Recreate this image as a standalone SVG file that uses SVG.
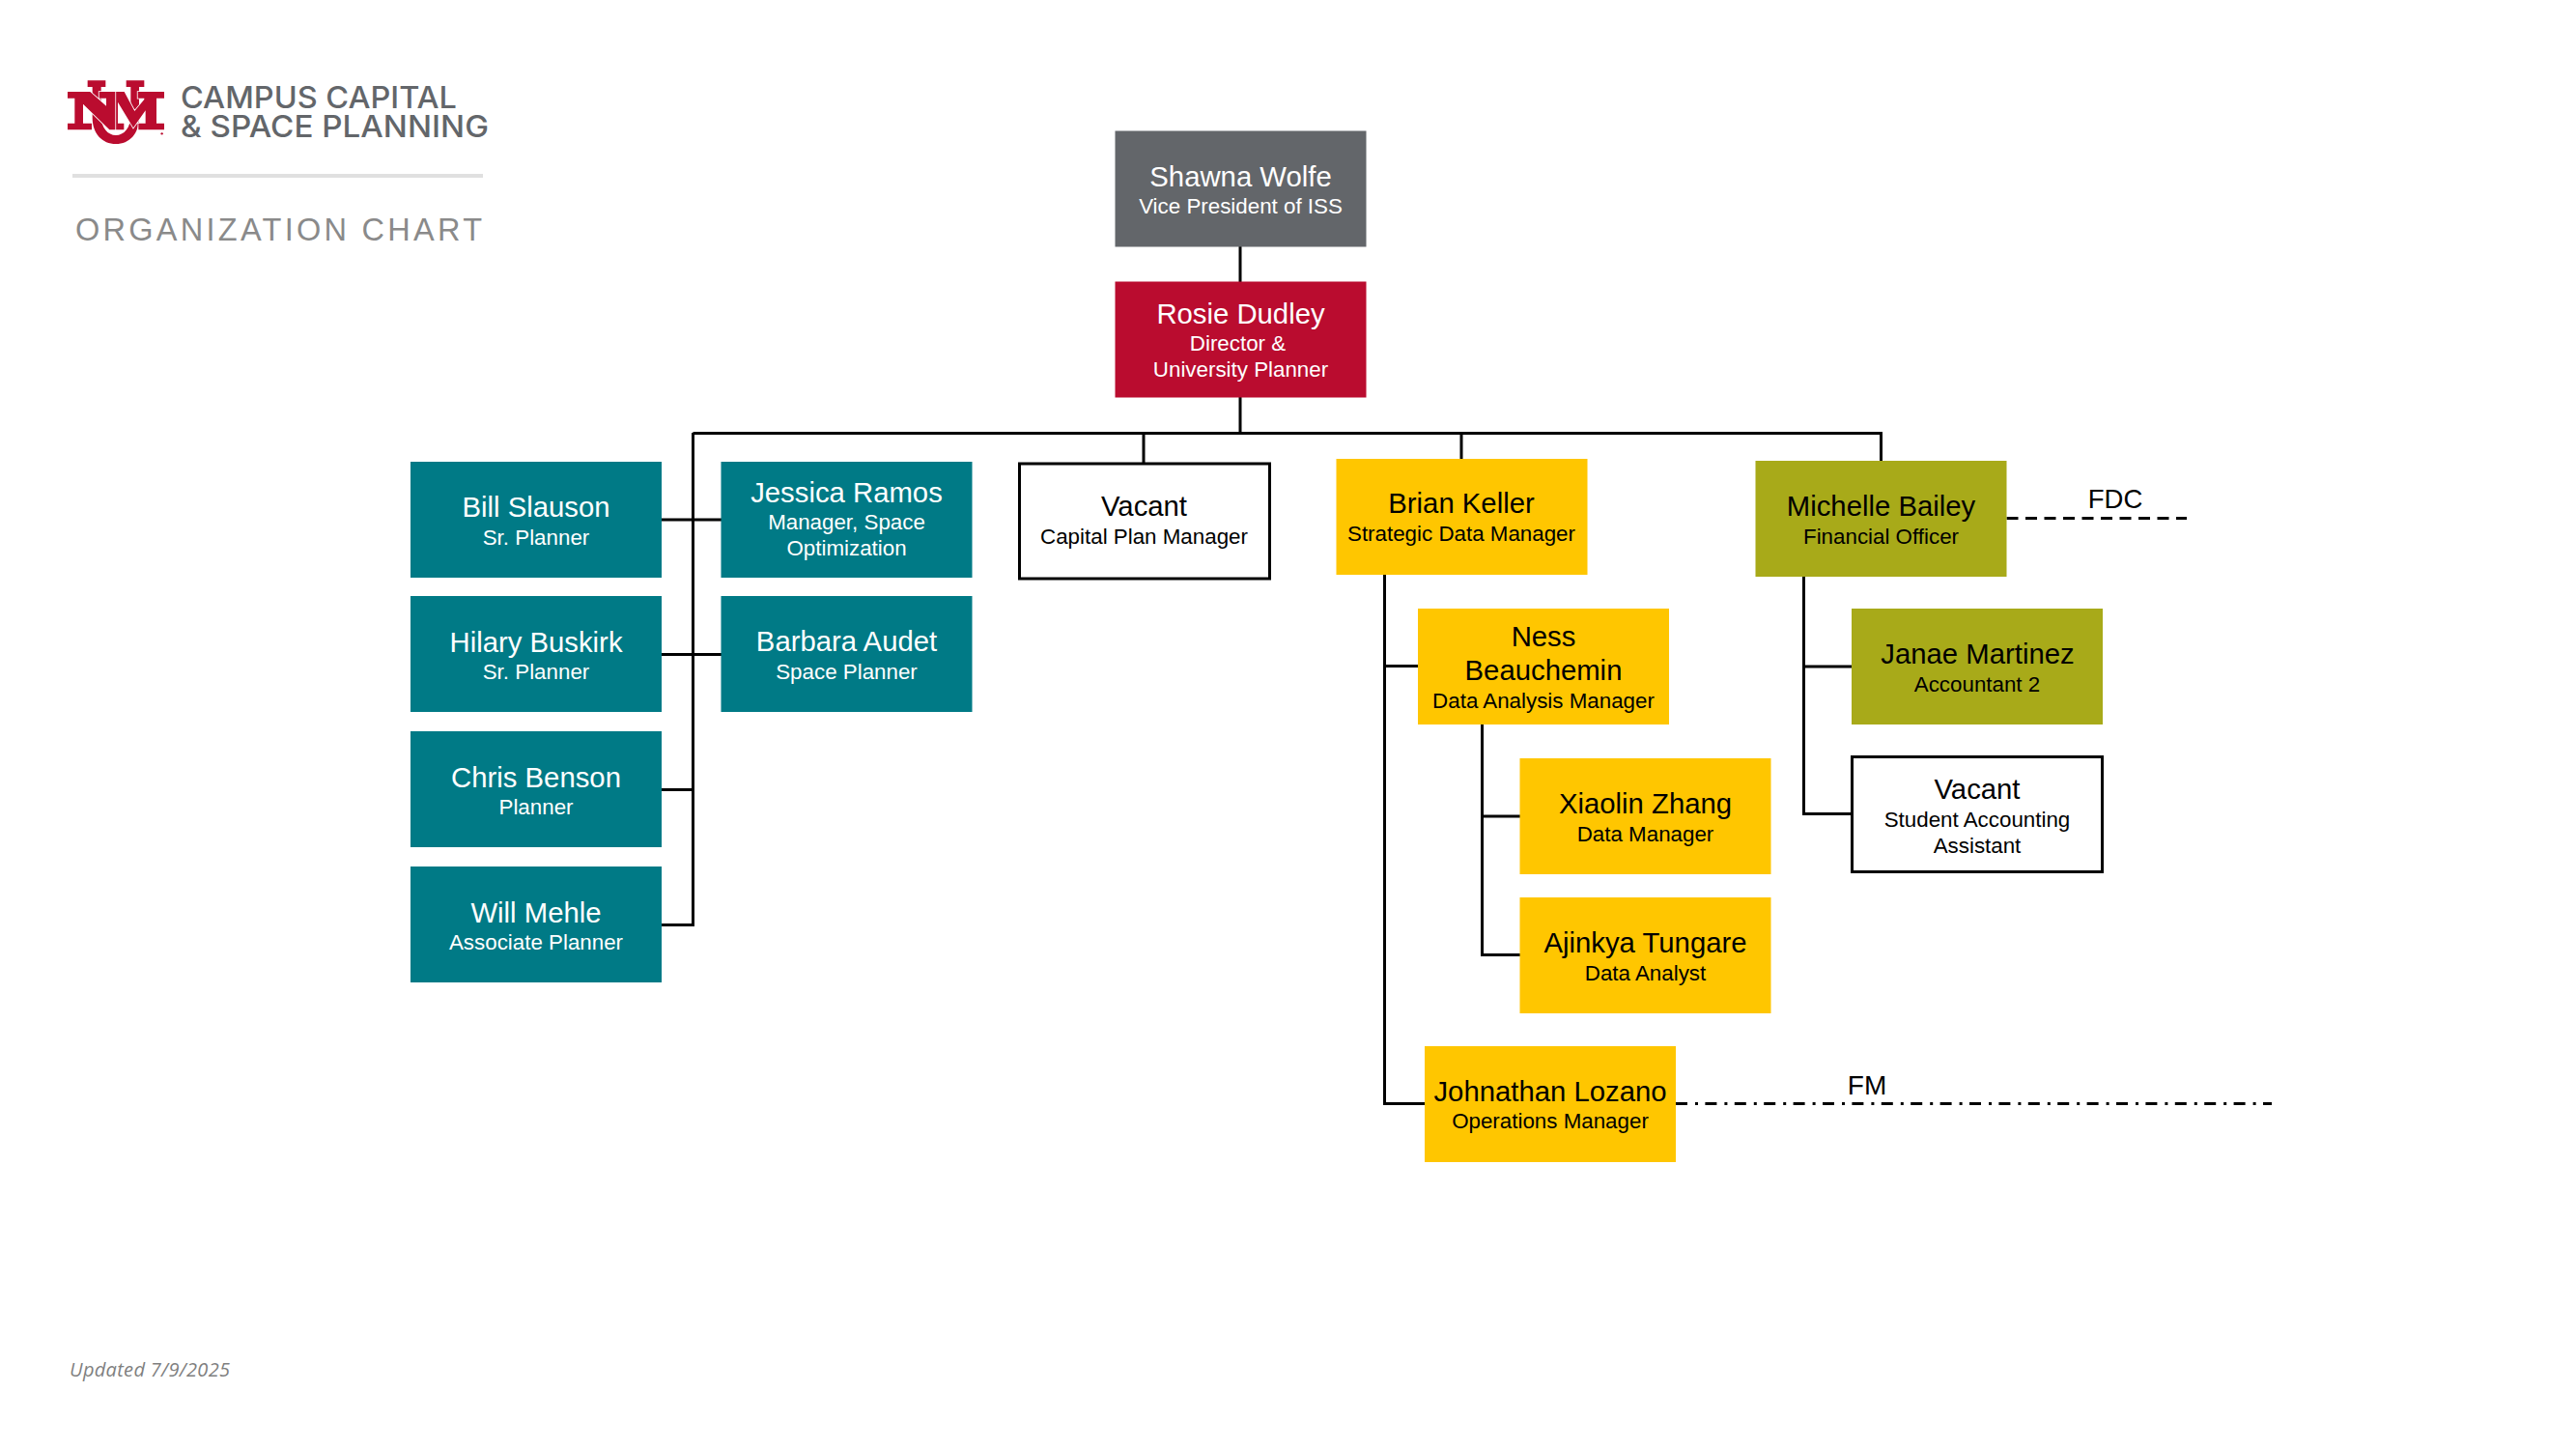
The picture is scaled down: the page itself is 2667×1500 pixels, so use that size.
<svg xmlns="http://www.w3.org/2000/svg" width="2667" height="1500" viewBox="0 0 2667 1500">
<style>
text{font-family:"Liberation Sans",Arial,sans-serif;text-anchor:middle}
.n{font-size:29.3px}.s{font-size:22.35px}
.w{fill:#fff}.k{fill:#000}
.gray{fill:#63666a}.red{fill:#ba0c2f}.teal{fill:#007a86}.gold{fill:#ffc600}.olive{fill:#a8aa19}
.open{fill:#fff;stroke:#000;stroke-width:3}
.c{fill:none;stroke:#000;stroke-width:3}
.brand{font-family:Inter,"Liberation Sans",sans-serif;font-weight:500;font-size:31px;fill:#63666a;text-anchor:start}
</style>
<rect width="2667" height="1500" fill="#fff"/>
<g id="logo" transform="translate(60 75) scale(.3333)">
<path fill="#ba0c2f" d="M92 25H148V45H134V135C134 172 155 195 180 195C205 195 226 172 226 135V45H212V25H268V45H252V140C252 190 222 222 180 222C138 222 107 190 107 140V45H92Z"/>
<g fill="#ba0c2f" stroke="#fff" stroke-width="5" paint-order="stroke">
<path d="M178 60H206L238 120L268 84V80H248V60H330V80H306V158H330V178H250V158H272V118L234 172L186 92V158H205V178H165V60Z"/>
<path d="M30 60H100L150 104V80H128V60H178V178H160L78 98V158H105V178H30V158H52V80H30Z"/>
</g>
<circle cx="323" cy="190" r="3.5" fill="#ba0c2f"/>
</g>
<g id="brand-title">
<text class="brand"><tspan x="187" y="112" textLength="286" lengthAdjust="spacingAndGlyphs">CAMPUS CAPITAL</tspan><tspan x="187" y="142" textLength="319" lengthAdjust="spacingAndGlyphs">&amp; SPACE PLANNING</tspan></text>
<rect x="75" y="180" width="425" height="4" fill="#e0e0e0"/>
<text x="78" y="249" font-size="32.5" fill="#8a8a8a" style="text-anchor:start" textLength="421">ORGANIZATION CHART</text>
</g>
<g id="connectors">
<path class="c" d="M1284 255V449"/>
<path class="c" d="M717.5 448.5H1949"/>
<path class="c" d="M1184 448V480M1513 448V476M1947.5 448V478"/>
<path class="c" d="M717.5 448V957.5H685M685 538H747M685 677.5H747M685 817.5H717.5"/>
<path class="c" d="M1433.5 595V1142.5H1475M1433.5 689.5H1468"/>
<path class="c" d="M1534.5 750V988.5H1574M1534.5 845H1574"/>
<path class="c" d="M1867.5 597V842.5H1917M1867.5 690H1917"/>
<path class="c" stroke-dasharray="12 7.5" d="M2077.5 536.5H2264"/>
<path class="c" stroke-dasharray="12 8 3 7.4" d="M1735 1142.5H2352"/>
<text class="k" x="2190" y="526" font-size="27.5">FDC</text>
<text class="k" x="1933" y="1133" font-size="28">FM</text>
</g>
<g id="shawna"><rect class="gray" x="1154.5" y="135.5" width="260" height="120"/><text class="n w" x="1284.5" y="193">Shawna Wolfe</text><text class="s w" x="1284.5" y="221">Vice President of ISS</text></g>
<g id="rosie"><rect class="red" x="1154.5" y="291.5" width="260" height="120"/><text class="n w" x="1284.5" y="335">Rosie Dudley</text><text class="s w" x="1281.5" y="363">Director &amp;</text><text class="s w" x="1284.5" y="390">University Planner</text></g>
<g id="bill"><rect class="teal" x="425" y="478" width="260" height="120"/><text class="n w" x="555" y="535">Bill Slauson</text><text class="s w" x="555" y="563.5">Sr. Planner</text></g>
<g id="hilary"><rect class="teal" x="425" y="617" width="260" height="120"/><text class="n w" x="555" y="675">Hilary Buskirk</text><text class="s w" x="555" y="703">Sr. Planner</text></g>
<g id="chris"><rect class="teal" x="425" y="757" width="260" height="120"/><text class="n w" x="555" y="815">Chris Benson</text><text class="s w" x="555" y="843">Planner</text></g>
<g id="will"><rect class="teal" x="425" y="897" width="260" height="120"/><text class="n w" x="555" y="954.5">Will Mehle</text><text class="s w" x="555" y="983">Associate Planner</text></g>
<g id="jessica"><rect class="teal" x="746.5" y="478" width="260" height="120"/><text class="n w" x="876.5" y="519.5">Jessica Ramos</text><text class="s w" x="876.5" y="548">Manager, Space</text><text class="s w" x="876.5" y="575">Optimization</text></g>
<g id="barbara"><rect class="teal" x="746.5" y="617" width="260" height="120"/><text class="n w" x="876.5" y="674">Barbara Audet</text><text class="s w" x="876.5" y="703">Space Planner</text></g>
<g id="vacant-capital"><rect class="open" x="1055.5" y="480" width="259" height="119"/><text class="n k" x="1184.5" y="534">Vacant</text><text class="s k" x="1184.5" y="563">Capital Plan Manager</text></g>
<g id="brian"><rect class="gold" x="1383.5" y="475" width="260" height="120"/><text class="n k" x="1513" y="531">Brian Keller</text><text class="s k" x="1513" y="559.5">Strategic Data Manager</text></g>
<g id="ness"><rect class="gold" x="1468" y="630" width="260" height="120"/><text class="n k" x="1598" y="669">Ness</text><text class="n k" x="1598" y="704">Beauchemin</text><text class="s k" x="1598" y="733">Data Analysis Manager</text></g>
<g id="xiaolin"><rect class="gold" x="1573.5" y="785" width="260" height="120"/><text class="n k" x="1703.5" y="842">Xiaolin Zhang</text><text class="s k" x="1703.5" y="871">Data Manager</text></g>
<g id="ajinkya"><rect class="gold" x="1573.5" y="929" width="260" height="120"/><text class="n k" x="1703.5" y="986">Ajinkya Tungare</text><text class="s k" x="1703.5" y="1015">Data Analyst</text></g>
<g id="johnathan"><rect class="gold" x="1475" y="1083" width="260" height="120"/><text class="n k" x="1605" y="1139.5">Johnathan Lozano</text><text class="s k" x="1605" y="1168">Operations Manager</text></g>
<g id="michelle"><rect class="olive" x="1817.5" y="477" width="260" height="120"/><text class="n k" x="1947.5" y="533.5">Michelle Bailey</text><text class="s k" x="1947.5" y="562.5">Financial Officer</text></g>
<g id="janae"><rect class="olive" x="1917" y="630" width="260" height="120"/><text class="n k" x="2047.5" y="687">Janae Martinez</text><text class="s k" x="2047" y="716">Accountant 2</text></g>
<g id="vacant-student"><rect class="open" x="1917.5" y="783.5" width="259" height="119"/><text class="n k" x="2047" y="827">Vacant</text><text class="s k" x="2047" y="856">Student Accounting</text><text class="s k" x="2047" y="882.5">Assistant</text></g>
<text x="72" y="1425" font-size="20" font-style="italic" fill="#7f7f7f" style="font-family:'Open Sans',sans-serif;text-anchor:start" textLength="166">Updated 7/9/2025</text>
</svg>
